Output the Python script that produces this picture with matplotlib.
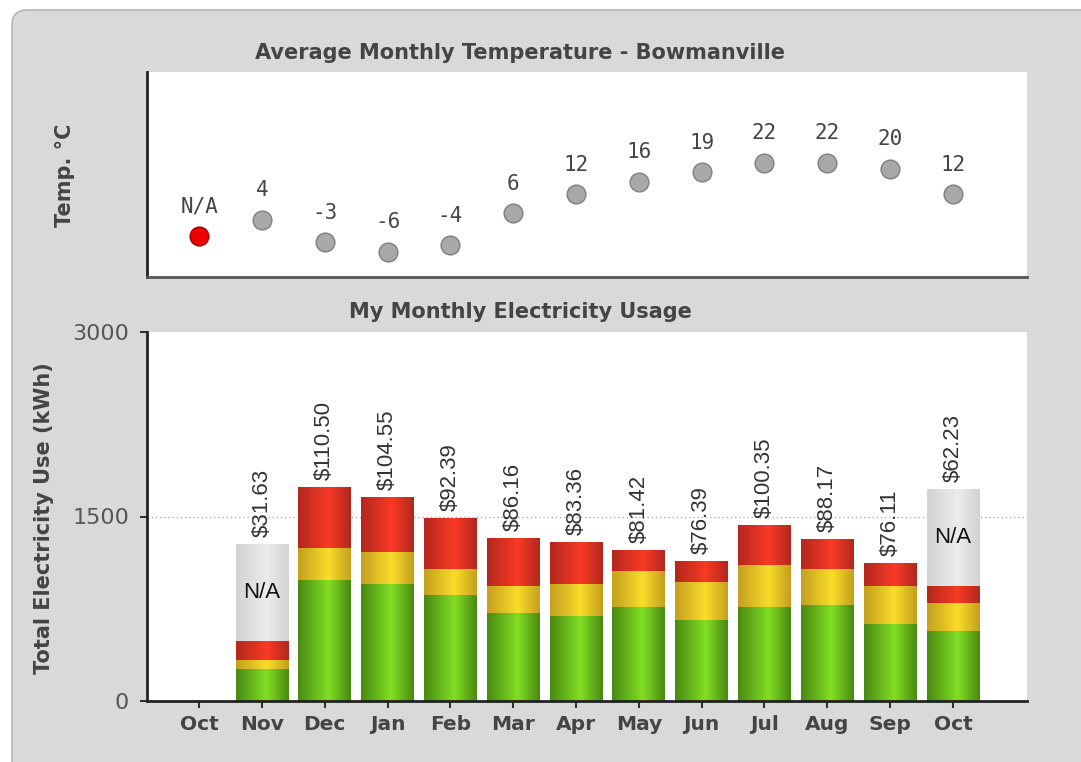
import matplotlib
matplotlib.use('Agg')
import matplotlib.pyplot as plt
import numpy as np
from matplotlib.colors import LinearSegmentedColormap
from matplotlib.patches import FancyBboxPatch

# Data
months = ['Oct', 'Nov', 'Dec', 'Jan', 'Feb', 'Mar', 'Apr', 'May', 'Jun', 'Jul', 'Aug', 'Sep', 'Oct']
temp_labels = ['N/A', '4', '-3', '-6', '-4', '6', '12', '16', '19', '22', '22', '20', '12']
temps = [-1, 4, -3, -6, -4, 6, 12, 16, 19, 22, 22, 20, 12]   # first point is N/A, drawn near 0
temp_missing = [True] + [False] * 12

green = [0, 263, 986, 951, 864, 713, 694, 762, 656, 762, 780, 626, 572]
yellow = [0, 68, 255, 258, 207, 222, 257, 292, 311, 344, 293, 309, 222]
red = [0, 154, 501, 447, 414, 393, 342, 174, 171, 325, 241, 187, 141]
not_available = [0, 791, 0, 0, 0, 0, 0, 0, 0, 0, 0, 0, 789]
costs = ['', '$31.63', '$110.50', '$104.55', '$92.39', '$86.16', '$83.36',
         '$81.42', '$76.39', '$100.35', '$88.17', '$76.11', '$62.23']

x = np.arange(len(months))
xlim = (-0.83, 13.18)

fig = plt.figure(figsize=(10.81, 7.62), dpi=100, facecolor='white')

# rounded grey panel behind everything
panel = FancyBboxPatch((0.12, -0.3), 11.0, 7.82, boxstyle='round,pad=0,rounding_size=0.15',
                       transform=fig.dpi_scale_trans, facecolor='#d9d9d9',
                       edgecolor='#b5b5b5', linewidth=1.2, zorder=-10)
fig.patches.append(panel)

title_kw = dict(fontsize=15, fontweight='bold', color='#444444', ha='center', va='center')
fig.text(520 / 1081, 1 - 53 / 762, 'Average Monthly Temperature - Bowmanville', **title_kw)
fig.text(520 / 1081, 1 - 312 / 762, 'My Monthly Electricity Usage', **title_kw)

# ---- temperature panel ----
ax1 = fig.add_axes([147 / 1081, 1 - 277 / 762, 880 / 1081, 205 / 762])
ax1.set_facecolor('white')
for i in x:
    if temp_missing[i]:
        fc, ec = '#ee0000', '#9a0000'
    else:
        fc, ec = '#a8a8a8', '#7f7f7f'
    ax1.plot(x[i], temps[i], 'o', ms=13.5, mfc=fc, mec=ec, mew=1, zorder=3)
    ax1.annotate(temp_labels[i], (x[i], temps[i]), xytext=(0, 14), textcoords='offset points',
                 ha='center', va='bottom', fontsize=15, color='#444444', family='DejaVu Sans Mono')
ax1.set_xlim(*xlim)
ax1.set_ylim(-14, 50.5)
ax1.set_xticks([])
ax1.set_yticks([])
for s in ['top', 'right']:
    ax1.spines[s].set_visible(False)
ax1.spines['left'].set_linewidth(2)
ax1.spines['left'].set_color('#222222')
ax1.spines['bottom'].set_linewidth(2)
ax1.spines['bottom'].set_color('#555555')
fig.text(65 / 1081, 1 - 175 / 762, 'Temp. \u00b0C', rotation=90, fontsize=15, fontweight='bold',
         color='#444444', ha='center', va='center')

# ---- electricity panel ----
ax2 = fig.add_axes([147 / 1081, 1 - 701 / 762, 880 / 1081, 369 / 762])
ax2.set_facecolor('white')
ax2.axhline(1500, color='#b0b0b0', linestyle=(0, (1, 2)), linewidth=1, zorder=1)


def shade(bars, dark, light):
    # horizontal gradient, brightest a little right of centre
    cmap = LinearSegmentedColormap.from_list('g', [(0, dark), (0.58, light), (1, dark)])
    grad = np.linspace(0, 1, 64).reshape(1, -1)
    for p in bars:
        h = p.get_height()
        if h <= 0:
            continue
        x0, y0, w = p.get_x(), p.get_y(), p.get_width()
        im = ax2.imshow(grad, extent=[x0, x0 + w, y0, y0 + h], cmap=cmap,
                        aspect='auto', zorder=2, interpolation='bilinear')
        im.set_clip_path(p)


w = 0.84
b_green = ax2.bar(x, green, w, color='#6cc01e', edgecolor='none', zorder=2)
b_yellow = ax2.bar(x, yellow, w, bottom=green, color='#eacb26', edgecolor='none', zorder=2)
bottom_red = np.array(green) + np.array(yellow)
b_red = ax2.bar(x, red, w, bottom=bottom_red, color='#e0301f', edgecolor='none', zorder=2)
bottom_na = bottom_red + np.array(red)
b_na = ax2.bar(x, not_available, w, bottom=bottom_na, color='#e6e6e6', edgecolor='none', zorder=2)

shade(b_green, '#4a8a12', '#82de24')
shade(b_yellow, '#c4a01e', '#fadc2a')
shade(b_red, '#b3281d', '#f93a26')
shade(b_na, '#d3d3d3', '#ececec')

tops = bottom_na + np.array(not_available)
for i in x:
    if not_available[i] > 0:
        ax2.text(x[i], bottom_na[i] + not_available[i] / 2, 'N/A', ha='center', va='center',
                 fontsize=16, color='#111111', family='Liberation Sans', zorder=4)
    if costs[i]:
        ax2.annotate(costs[i], (x[i], tops[i]), xytext=(0, 5), textcoords='offset points',
                     rotation=90, ha='center', va='bottom', fontsize=16, color='#333333',
                     family='Liberation Sans')

ax2.set_xlim(*xlim)
ax2.set_ylim(0, 3000)
ax2.set_yticks([0, 1500, 3000])
ax2.set_yticklabels(['0', '1500', '3000'], fontsize=16, color='#555555')
ax2.set_xticks(x)
ax2.set_xticklabels(months, fontsize=14.5, fontweight='bold', color='#444444')
ax2.tick_params(axis='y', length=5, width=1.5, color='#333333', pad=8)
ax2.tick_params(axis='x', length=5, width=1.5, color='#333333', pad=5)
for s in ['top', 'right']:
    ax2.spines[s].set_visible(False)
for s in ['left', 'bottom']:
    ax2.spines[s].set_linewidth(2)
    ax2.spines[s].set_color('#222222')
fig.text(44 / 1081, 1 - 518 / 762, 'Total Electricity Use (kWh)', rotation=90, fontsize=15,
         fontweight='bold', color='#444444', ha='center', va='center')

fig.savefig('out.png', dpi=100, facecolor=fig.get_facecolor())
